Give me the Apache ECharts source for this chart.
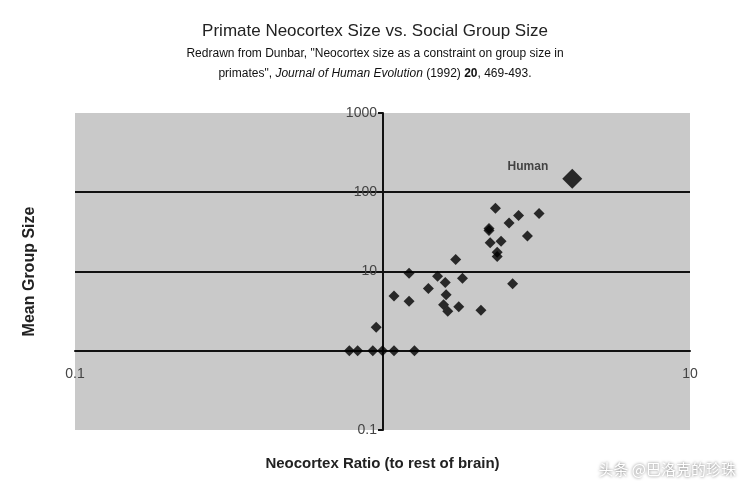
<!DOCTYPE html>
<html>
<head>
<meta charset="utf-8">
<script src="https://cdn.jsdelivr.net/npm/echarts@6/dist/echarts.min.js"></script>
<style>html,body{margin:0;padding:0;background:#fff}#main{width:750px;height:497px}</style>
</head>
<body>
<div id="main"></div>
<script>
// 灵长类数据 (新皮层比率, 平均群体规模)
var ratioX = [2.33, 2.77, 3.23, 2.58, 2.22, 2.22, 2.96, 2.24, 2.43, 2.36, 2.36, 1.73, 1.22, 1.51, 1.60, 1.82, 2.65, 1.41, 1.09, 1.22, 1.61, 1.58, 1.63, 1.77, 2.09, 0.954, 0.78, 0.83, 0.93, 1.0, 1.09, 1.27];
var groupY = [63, 51, 54, 41, 35, 33, 28, 23, 24, 17.5, 15.5, 14.2, 9.5, 8.7, 7.25, 8.2, 7.0, 6.1, 4.9, 4.2, 5.1, 3.8, 3.16, 3.6, 3.25, 1.98, 1, 1, 1, 1, 1, 1];
var human = [4.14, 148];
var xTicks = ['0.1', '10'];
var yTicks = ['0.1', '10', '100', '1000'];

var pts = ratioX.map(function (x, i) { return [x, groupY[i]]; });
var font = 'Liberation Sans, Arial, sans-serif';

var chart = echarts.init(document.getElementById('main'));
var option = {
  title: {
    text: 'Primate Neocortex Size vs. Social Group Size',
    left: 'center', top: 18,
    textStyle: { fontFamily: font, fontSize: 17, fontWeight: 'normal', color: '#222' },
    subtext: '{n|Redrawn from Dunbar, "Neocortex size as a constraint on group size in}\n{n|primates", }{i|Journal of Human Evolution}{n| (1992) }{b|20}{n|, 469-493.}',
    itemGap: 4,
    subtextStyle: {
      fontFamily: font, fontSize: 12, color: '#111', lineHeight: 20,
      rich: {
        n: { fontFamily: font, fontSize: 12, color: '#111' },
        i: { fontFamily: font, fontSize: 12, color: '#111', fontStyle: 'italic' },
        b: { fontFamily: font, fontSize: 12, color: '#111', fontWeight: 'bold' }
      }
    }
  },
  grid: {
    left: 75, right: 60, top: 113, bottom: 67,
    show: true, backgroundColor: '#c9c9c9', borderWidth: 0
  },
  xAxis: {
    type: 'log', min: 0.1, max: 10, logBase: 10,
    offset: -79,
    name: 'Neocortex Ratio (to rest of brain)',
    nameLocation: 'middle', nameGap: 105,
    nameTextStyle: { fontFamily: font, fontSize: 15, fontWeight: 'bold', color: '#222' },
    axisLine: { show: true, lineStyle: { color: '#111', width: 2 } },
    axisTick: { show: false },
    splitLine: { show: false },
    axisLabel: {
      fontFamily: font, fontSize: 14, color: '#444', margin: 16,
      formatter: function (v) {
        var s = String(+v.toPrecision(3));
        return xTicks.indexOf(s) >= 0 ? s : '';
      }
    }
  },
  yAxis: {
    type: 'log', min: 0.1, max: 1000, logBase: 10,
    offset: -308,
    name: 'Mean Group Size',
    nameLocation: 'middle', nameGap: 345, nameRotate: 90,
    nameTextStyle: { fontFamily: font, fontSize: 16, fontWeight: 'bold', color: '#222' },
    axisLine: { show: true, lineStyle: { color: '#111', width: 2 } },
    axisTick: { show: true, length: 5, lineStyle: { color: '#111', width: 2 } },
    splitLine: { show: true, lineStyle: { color: ['transparent', '#111', '#111', '#111', 'transparent'], width: 2 } },
    axisLabel: {
      fontFamily: font, fontSize: 14, color: '#444', margin: 6,
      formatter: function (v) {
        var s = String(+v.toPrecision(3));
        return yTicks.indexOf(s) >= 0 ? s : '';
      }
    }
  },
  series: [
    {
      type: 'scatter', data: pts, symbol: 'diamond', symbolSize: 11,
      itemStyle: { color: '#000' }, z: 5
    },
    {
      type: 'scatter', data: [human], symbol: 'diamond', symbolSize: 20,
      itemStyle: { color: '#000' }, z: 5,
      label: {
        show: true, formatter: 'Human', position: 'left', distance: 14, offset: [0, -12],
        fontFamily: font, fontSize: 12, fontWeight: 'bold', color: '#222'
      }
    }
  ],
  graphic: [{
    type: 'text', right: 14, bottom: 20,
    style: {
      text: '头条 @巴洛克的珍珠', fill: '#fff', fontSize: 15,
      fontFamily: 'Noto Sans CJK SC', textShadowColor: 'rgba(0,0,0,0.6)', textShadowBlur: 3
    }
  }]
};
chart.setOption(option);
</script>
</body>
</html>
